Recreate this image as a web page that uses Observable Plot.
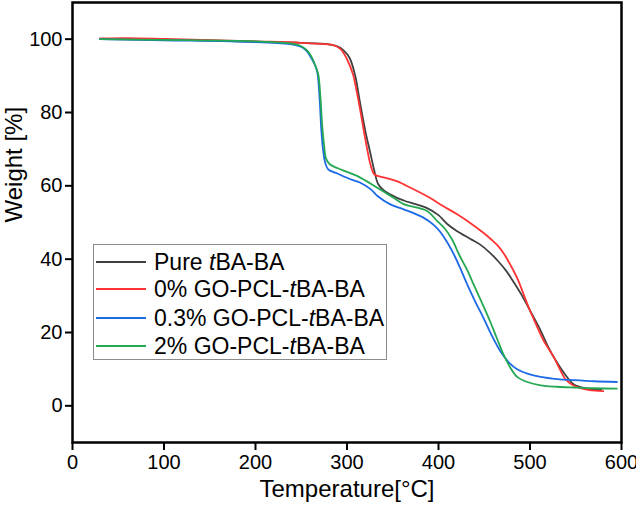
<!DOCTYPE html>
<html><head><meta charset="utf-8">
<script src="https://cdn.jsdelivr.net/npm/d3@7"></script>
<script src="https://cdn.jsdelivr.net/npm/@observablehq/plot@0.6"></script>
<style>
body{margin:0;background:#fff;}
#wrap{position:relative;width:636px;height:514px;font-family:"Liberation Sans",Arial,sans-serif;}
#legend{position:absolute;left:93px;top:244px;width:294px;height:116px;border:1px solid #8c8c8c;background:#fff;box-sizing:border-box}
.row{position:absolute;left:0;height:28px;display:flex;align-items:center;font-size:23px;color:#000;white-space:nowrap}
.sw{width:50px;height:0;border-top:2px solid;margin-left:2px;margin-right:8px}
</style></head>
<body>
<div id="wrap"><div id="chart"></div><div id="legend"></div></div>
<script>
const seriesNames = ["Pure tBA-BA", "0% GO-PCL-tBA-BA", "0.3% GO-PCL-tBA-BA", "2% GO-PCL-tBA-BA"];
const seriesColors = ["#404040", "#ff3333", "#1c6ae6", "#24a852"];

const tempPure = [30, 100, 200, 250, 280, 290, 296, 303, 309, 314, 320, 325, 330, 334, 340, 354, 362, 375, 387, 400, 409.5, 420, 435, 446, 456, 465, 474, 480.5, 490, 500, 511.5, 520, 529, 540, 548, 560, 578];
const weightPure = [100, 99.9, 99.3, 99, 98.6, 98, 97, 94.8, 90, 83, 75, 69.5, 64, 60.5, 58.8, 56.8, 56, 55, 54, 52, 49.6, 47.7, 45.5, 43.9, 41.8, 39.5, 36.8, 34.4, 30.6, 26, 20.6, 16, 12, 8, 5.8, 4.8, 4.4];

const temp0 = [30, 60, 100, 200, 250, 270, 285, 293, 299.5, 306.7, 310, 314, 321, 326, 330, 340, 355, 370, 390, 405, 420, 435, 449, 458, 465, 472, 480, 487, 493, 500, 507, 515, 526, 532, 539, 547, 555, 565, 580];
const weight0 = [100.2, 100.3, 100.1, 99.4, 99, 98.7, 98.4, 97.3, 94.8, 90.3, 86.5, 81.3, 71.4, 65.5, 63.1, 62.3, 61.2, 59.4, 56.8, 54.5, 52.3, 49.8, 47.2, 45.3, 43.6, 41.3, 37.8, 34.3, 30.4, 26, 22, 17.7, 13.3, 10.3, 7.2, 5.6, 4.8, 4.3, 4.0];

const temp03 = [30, 100, 200, 240, 249, 255, 260, 264, 267.4, 270, 272, 274, 276, 279.4, 290, 303.8, 314, 325.7, 333, 346.8, 362, 383, 395, 402, 409.5, 417.8, 424, 431, 440, 449.5, 458, 467.8, 477, 486, 498, 511.5, 530, 548, 570, 595];
const weight03 = [100, 99.7, 99.2, 98.6, 98, 97, 95.3, 93.5, 91.2, 84, 75, 69.5, 66.5, 64.5, 63.3, 61.8, 60.9, 59.1, 57.3, 55, 53.6, 51.4, 49.3, 47.4, 44.6, 40.8, 37.4, 33.3, 28.5, 23.8, 19.3, 14.8, 11.8, 10.0, 8.7, 7.9, 7.3, 7.0, 6.7, 6.5];

const temp2 = [30, 100, 200, 240, 249, 256, 261, 265, 268.5, 271, 273, 275, 277, 281.2, 295, 311, 333, 350.5, 362, 387, 398.6, 407, 415, 423, 431.4, 438.6, 449.5, 456.8, 464, 471.4, 479, 486, 497, 511.5, 530, 548, 570, 595];
const weight2 = [100, 99.8, 99.4, 98.8, 98.2, 97, 95.3, 93, 90.5, 84, 76, 71, 67.5, 65.9, 64.3, 62.7, 59.5, 56.8, 55, 53.2, 50.4, 48.3, 45.3, 41, 37, 33.0, 27.0, 22.8, 18.3, 13.8, 10.2, 7.9, 6.5, 5.6, 5.2, 5.0, 4.8, 4.7];

const xTicks = [0, 100, 200, 300, 400, 500, 600];
const yTicks = [0, 20, 40, 60, 80, 100];

const temps = [tempPure, temp0, temp03, temp2];
const weights = [weightPure, weight0, weight03, weight2];
const rows = [];
seriesNames.forEach((name, i) => {
  temps[i].forEach((t, j) => rows.push({series: name, temp: t, weight: weights[i][j]}));
});

const chart = Plot.plot({
  width: 636,
  height: 514,
  marginLeft: 72,
  marginRight: 15,
  marginTop: 2,
  marginBottom: 72,
  style: {fontFamily: "'Liberation Sans', Arial, sans-serif", fontSize: "20px", background: "white", color: "black", overflow: "visible"},
  x: {domain: [0, 600]},
  y: {domain: [-10, 110]},
  color: {domain: seriesNames, range: seriesColors},
  marks: [
    Plot.axisX({ticks: xTicks, tickSize: 8, tickPadding: 4, strokeWidth: 2, label: null, fontSize: 20}),
    Plot.axisY({ticks: yTicks, tickSize: 7, tickPadding: 3, strokeWidth: 2, label: null, fontSize: 20}),
    Plot.line(rows, {x: "temp", y: "weight", z: "series", stroke: "series", strokeWidth: 1.8, curve: "catmull-rom"}),
    Plot.frame({stroke: "black", strokeWidth: 2.5}),
    Plot.text(["Temperature[°C]"], {frameAnchor: "bottom", dy: 54, fontSize: 24}),
    Plot.text(["Weight [%]"], {frameAnchor: "left", dx: -58, rotate: -90, fontSize: 24})
  ]
});
document.getElementById("chart").appendChild(chart);

const legend = document.getElementById("legend");
const rowTops = [3, 30, 59, 87];
seriesNames.forEach((name, i) => {
  const r = document.createElement("div");
  r.className = "row";
  r.style.top = rowTops[i] + "px";
  const sw = document.createElement("div");
  sw.className = "sw";
  sw.style.borderTopColor = seriesColors[i];
  r.appendChild(sw);
  const label = document.createElement("span");
  label.innerHTML = name.replace("tBA", "<i>t</i>BA");
  r.appendChild(label);
  legend.appendChild(r);
});
</script>
</body></html>
